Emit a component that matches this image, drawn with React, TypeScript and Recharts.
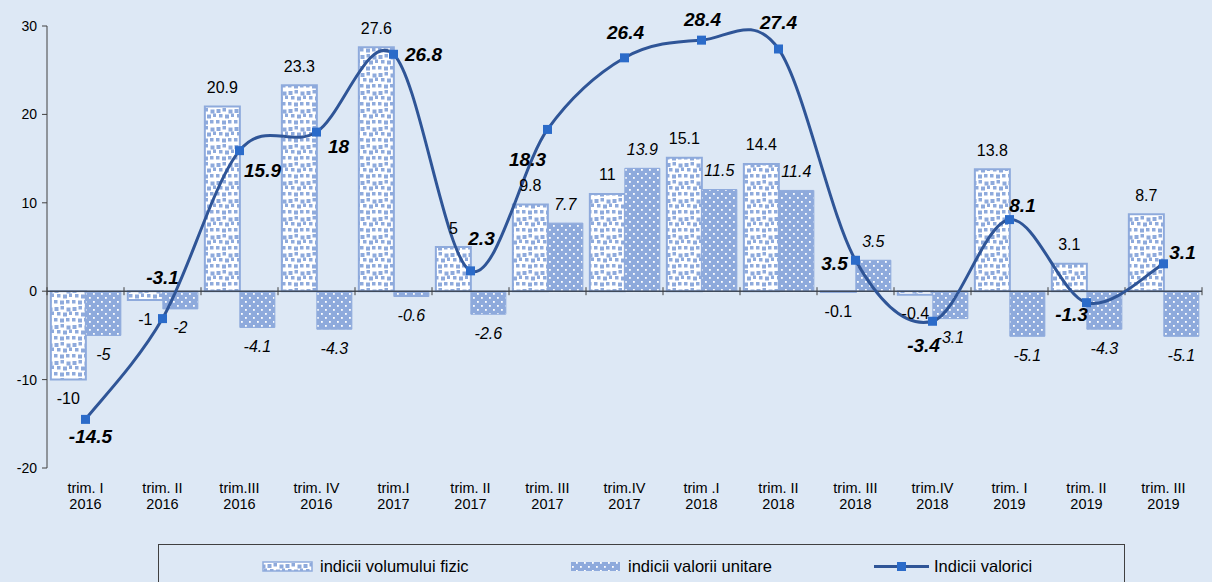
import React from "react";
import {
  ComposedChart, Bar, Line, XAxis, YAxis, LabelList, ReferenceLine,
} from "recharts";

const trimestre = ["trim. I", "trim. II", "trim.III", "trim. IV", "trim.I", "trim. II", "trim. III", "trim.IV", "trim .I", "trim. II", "trim. III", "trim.IV", "trim. I", "trim. II", "trim. III"];
const ani = ["2016", "2016", "2016", "2016", "2017", "2017", "2017", "2017", "2018", "2018", "2018", "2018", "2019", "2019", "2019"];
const volumFizic = [-10, -1, 20.9, 23.3, 27.6, 5, 9.8, 11, 15.1, 14.4, -0.1, -0.4, 13.8, 3.1, 8.7];
const valoriUnitare = [-5, -2, -4.1, -4.3, -0.6, -2.6, 7.7, 13.9, 11.5, 11.4, 3.5, -3.1, -5.1, -4.3, -5.1];
const valorici = [-14.5, -3.1, 15.9, 18, 26.8, 2.3, 18.3, 26.4, 28.4, 27.4, 3.5, -3.4, 8.1, -1.3, 3.1];
const yTicks = [-20, -10, 0, 10, 20, 30];

// nudges for the bold labels of the line (text centre relative to the marker)
const lineLabelDx = [5, 0, 23, 22, 30, 11, -20, 1, 1, 0, -21, -9, 13, -15, 19];
const lineLabelDy = [17, -41, 20, 14, 0, -32, 30, -25, -21, -26, 3, 24, -14, 12, -11];

const data = trimestre.map((t, i) => ({
  name: t + "|" + ani[i],
  vol: volumFizic[i],
  unit: valoriUnitare[i],
  val: valorici[i],
}));

const FONT = "'Liberation Sans', Arial, sans-serif";
const BG = "#dde8f5";
const BAR_BLUE = "#8eaadc";
const LINE_BLUE = "#2f5597";
const MARK_BLUE = "#2b6bc9";

// Excel-like smoothing: cubic bezier through points, control points at 1/6 of neighbour spans
function excelSmooth(context: any) {
  let xs: number[] = [];
  let ys: number[] = [];
  return {
    areaStart() {},
    areaEnd() {},
    lineStart() { xs = []; ys = []; },
    point(x: number, y: number) { xs.push(+x); ys.push(+y); },
    lineEnd() {
      const n = xs.length;
      if (!n) return;
      context.moveTo(xs[0], ys[0]);
      for (let i = 0; i < n - 1; i++) {
        const a = Math.max(i - 1, 0);
        const d = Math.min(i + 2, n - 1);
        context.bezierCurveTo(
          xs[i] + (xs[i + 1] - xs[a]) / 6, ys[i] + (ys[i + 1] - ys[a]) / 6,
          xs[i + 1] - (xs[d] - xs[i]) / 6, ys[i + 1] - (ys[d] - ys[i]) / 6,
          xs[i + 1], ys[i + 1],
        );
      }
    },
  };
}

// jittered squares for the "volum fizic" fill
const volSquares = [
  [0.5, 1, 4], [6.5, 0, 3.5], [12.5, 1.5, 4],
  [3, 6, 3.5], [9, 6.5, 4], [15, 5.5, 3.5],
  [0, 12, 3.5], [6, 12.5, 4], [12, 12, 3.5],
];

function Patterns() {
  return (
    <defs>
      <pattern id="volPat" width="18" height="18" patternUnits="userSpaceOnUse">
        <rect width="18" height="18" fill="#fff" />
        {volSquares.map(([x, y, s], i) => (
          <rect key={i} x={x} y={y} width={s} height={s} fill={BAR_BLUE} />
        ))}
      </pattern>
      <pattern id="unitPat" width="8" height="8" patternUnits="userSpaceOnUse">
        <rect width="8" height="8" fill={BAR_BLUE} />
        <rect x="1" y="1" width="1.8" height="1.8" fill="#fff" />
        <rect x="5" y="5" width="1.8" height="1.8" fill="#fff" />
      </pattern>
    </defs>
  );
}

function XTick(props: any) {
  const { x, y, payload } = props;
  const [t, a] = String(payload.value).split("|");
  return (
    <text x={x} y={y} textAnchor="middle" fontFamily={FONT} fontSize={14.5} fill="#000">
      <tspan x={x} dy={25}>{t}</tspan>
      <tspan x={x} dy={16}>{a}</tspan>
    </text>
  );
}

function barLabel(italic: boolean) {
  return (props: any) => {
    const { x, y, width, height, value } = props;
    const top = Math.min(y, y + height);
    const bottom = Math.max(y, y + height);
    const cy = value >= 0 ? top - 19 : bottom + 19;
    return (
      <text x={x + width / 2} y={cy} textAnchor="middle" dominantBaseline="central"
        fontFamily={FONT} fontSize={16} fontStyle={italic ? "italic" : "normal"} fill="#000">
        {value}
      </text>
    );
  };
}

function lineLabel(props: any) {
  const { x, y, value } = props;
  const i = typeof props.index === "number" ? props.index : valorici.indexOf(value);
  return (
    <text x={x + (lineLabelDx[i] || 0)} y={y + (lineLabelDy[i] || 0)} textAnchor="middle"
      dominantBaseline="central" fontFamily={FONT} fontSize={19} fontWeight="bold"
      fontStyle="italic" fill="#000">
      {value}
    </text>
  );
}

function SquareDot(props: any) {
  const { cx, cy } = props;
  if (cx == null || cy == null) return null;
  return <rect x={cx - 4.5} y={cy - 4.5} width={9} height={9} fill={MARK_BLUE} />;
}

// zero line with category-boundary tick marks, drawn from the library's line ends
function ZeroAxis(props: any) {
  const { x1, y1, x2 } = props;
  const n = data.length;
  const marks = [];
  for (let i = 0; i <= n; i++) {
    const xx = x1 + ((x2 - x1) * i) / n;
    marks.push(<line key={i} x1={xx} x2={xx} y1={y1 - 4} y2={y1 + 4} stroke="#404040" strokeWidth={1} />);
  }
  return (
    <g>
      <line x1={x1} x2={x2} y1={y1} y2={y1} stroke="#404a5a" strokeWidth={1.5} />
      {marks}
    </g>
  );
}

function LegendBox() {
  const txt: React.CSSProperties = {
    position: "absolute", top: 12, fontFamily: FONT, fontSize: 16.5, color: "#000", lineHeight: "19px",
  };
  return (
    <div style={{
      position: "absolute", left: 158, top: 544, width: 967, height: 50,
      border: "1px solid #404040", boxSizing: "border-box",
    }}>
      <svg width={965} height={40} style={{ position: "absolute", left: 0, top: 0 }}>
        <Patterns />
        <rect x={104} y={17} width={49} height={9} fill="url(#volPat)" stroke={BAR_BLUE} strokeWidth={1.5} />
        <rect x={412} y={17} width={49} height={9} fill="url(#unitPat)" />
        <line x1={715} x2={770} y1={21.5} y2={21.5} stroke={LINE_BLUE} strokeWidth={3} />
        <rect x={738} y={17} width={9} height={9} fill={MARK_BLUE} />
      </svg>
      <span style={{ ...txt, left: 161 }}>indicii volumului fizic</span>
      <span style={{ ...txt, left: 469 }}>indicii valorii unitare</span>
      <span style={{ ...txt, left: 775 }}>Indicii valorici</span>
    </div>
  );
}

export default function App() {
  return (
    <div style={{
      position: "absolute", left: 0, top: 0, width: 1212, height: 582,
      background: BG, overflow: "hidden",
    }}>
      <ComposedChart
        width={1212}
        height={582}
        data={data}
        margin={{ top: 26, right: 10, bottom: 0, left: 0 }}
        barCategoryGap="5%"
        barGap={0}
      >
        <Patterns />
        <XAxis dataKey="name" axisLine={false} tickLine={false} tickSize={0} tickMargin={0}
          height={114} interval={0} tick={<XTick />} />
        <YAxis domain={[-20, 30]} ticks={yTicks} width={47} allowDataOverflow
          axisLine={{ stroke: "#404040" }} tickLine={{ stroke: "#404040" }} tickSize={5} tickMargin={5}
          tick={{ fontFamily: FONT, fontSize: 14, fill: "#000" }} />
        <Bar dataKey="vol" fill="url(#volPat)" stroke={BAR_BLUE} strokeWidth={2} isAnimationActive={false}>
          <LabelList dataKey="vol" content={barLabel(false)} />
        </Bar>
        <Bar dataKey="unit" fill="url(#unitPat)" stroke={BAR_BLUE} strokeWidth={1} isAnimationActive={false}>
          <LabelList dataKey="unit" content={barLabel(true)} />
        </Bar>
        <ReferenceLine y={0} shape={<ZeroAxis />} />
        <Line dataKey="val" type={excelSmooth as any} stroke={LINE_BLUE} strokeWidth={3}
          dot={<SquareDot />} activeDot={false} isAnimationActive={false}>
          <LabelList dataKey="val" content={lineLabel} />
        </Line>
      </ComposedChart>
      <LegendBox />
    </div>
  );
}
